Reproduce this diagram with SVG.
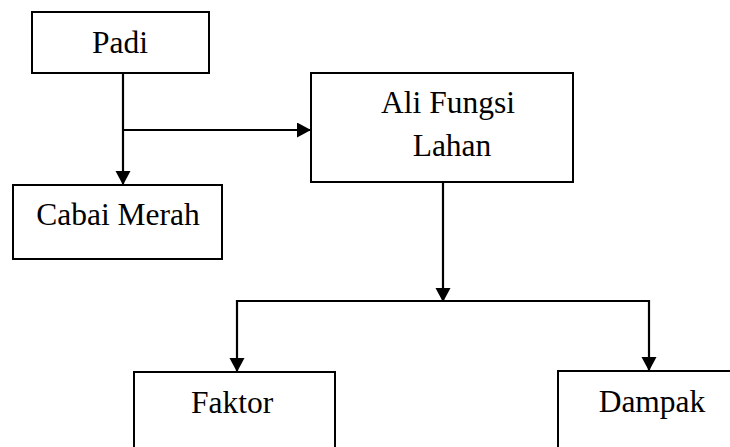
<svg xmlns="http://www.w3.org/2000/svg" width="730" height="447" viewBox="0 0 730 447">
  <style>
    .box { fill: #ffffff; stroke: #000000; stroke-width: 2; }
    .lbl { font-family: 'Liberation Serif', 'Tinos', 'Times New Roman', 'DejaVu Serif', serif; font-size: 31.5px; fill: #000000; text-anchor: middle; }
    .con { fill: none; stroke: #000000; stroke-width: 2.2; }
  </style>
  <defs>
    <marker id="arr" markerUnits="userSpaceOnUse" markerWidth="16" markerHeight="16" refX="14" refY="7.5" orient="auto">
      <path d="M0,0 L14,7.5 L0,15 Z" fill="#000000"/>
    </marker>
  </defs>
  <rect width="730" height="447" fill="#ffffff"/>

  <g id="connectors">
    <line class="con" x1="123" y1="73" x2="123" y2="185" marker-end="url(#arr)"/>
    <line class="con" x1="123" y1="130" x2="311" y2="130" marker-end="url(#arr)"/>
    <line class="con" x1="443" y1="182" x2="443" y2="302" marker-end="url(#arr)"/>
    <path class="con" d="M443,301 H237 V372" marker-end="url(#arr)"/>
    <path class="con" d="M443,301 H649 V371" marker-end="url(#arr)"/>
  </g>

  <g id="node-padi">
    <rect class="box" x="32" y="12" width="177" height="61"/>
    <text class="lbl" x="120" y="53" font-family="Liberation Serif, serif">Padi</text>
  </g>
  <g id="node-cabai">
    <rect class="box" x="13" y="185" width="209" height="74"/>
    <text class="lbl" x="118" y="225" font-family="Liberation Serif, serif">Cabai Merah</text>
  </g>
  <g id="node-alifungsi">
    <rect class="box" x="311" y="73" width="262" height="109"/>
    <text class="lbl" x="448" y="113" font-family="Liberation Serif, serif">Ali Fungsi</text>
    <text class="lbl" x="452" y="156" font-family="Liberation Serif, serif">Lahan</text>
  </g>
  <g id="node-faktor">
    <rect class="box" x="134" y="372" width="201" height="90"/>
    <text class="lbl" x="232" y="413" font-family="Liberation Serif, serif">Faktor</text>
  </g>
  <g id="node-dampak">
    <rect class="box" x="558" y="371" width="190" height="90"/>
    <text class="lbl" x="652" y="412" font-family="Liberation Serif, serif">Dampak</text>
  </g>
</svg>
